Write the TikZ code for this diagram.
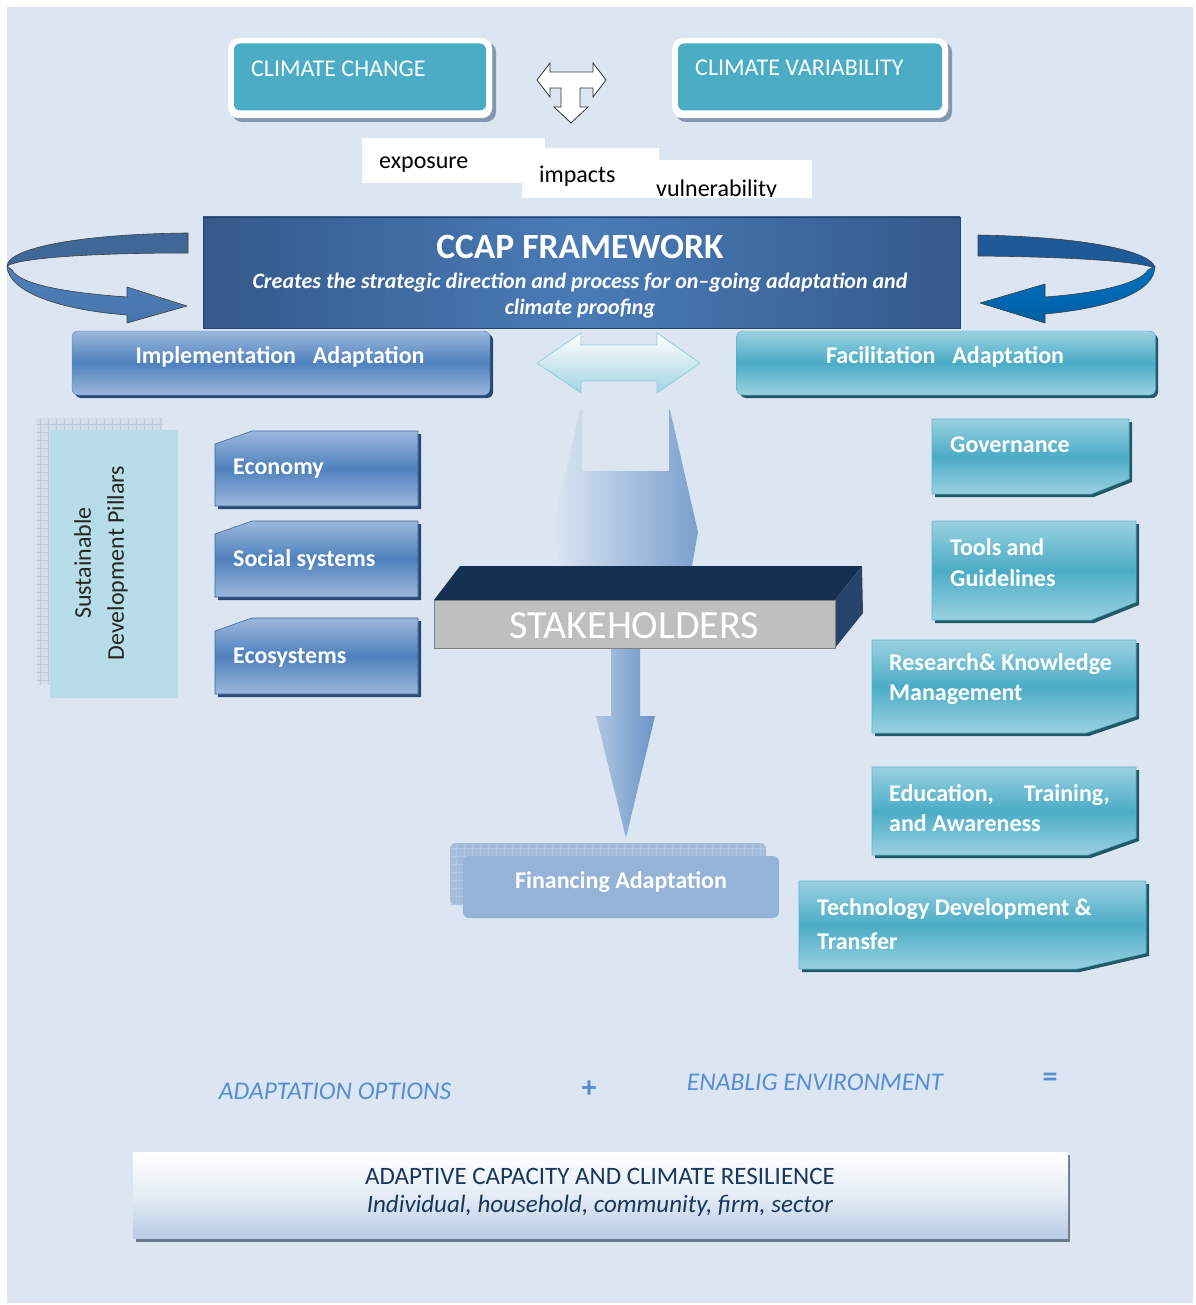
\documentclass[tikz,border=0pt]{standalone}
\usepackage{fontspec}
\setmainfont{Carlito}
\usepackage{tikz}
\usetikzlibrary{arrows,%
                shapes,positioning}
\definecolor{bgblue}{HTML}{DCE6F2}
\definecolor{teal1}{HTML}{4BACC6}
\definecolor{teal2}{HTML}{9AD1E0}
\definecolor{tealdark}{HTML}{215968}
\definecolor{blue1}{HTML}{4F81BD}
\definecolor{blue2}{HTML}{9CB8DD}
\definecolor{bluedark}{HTML}{2A4A75}
\definecolor{ccapdark}{HTML}{34598A}
\definecolor{ccaplight}{HTML}{4A7BB7}
\definecolor{ccapedge}{HTML}{24456E}
\definecolor{shadowgrey}{HTML}{8497B0}
\definecolor{navy}{HTML}{17375E}
\definecolor{optblue}{HTML}{558ED5}
\definecolor{finblue}{HTML}{95B3D7}
\definecolor{pillarcyan}{HTML}{B7DEE8}
\definecolor{gridfill}{HTML}{D3DDEC}
\definecolor{gridblue}{HTML}{BCCBE2}
\definecolor{loopblue}{HTML}{0070C0}
\definecolor{loopdark}{HTML}{1F5A98}
\newcommand{\mainsz}{\fontsize{24}{31}\selectfont}
% top-left corner cut: x1 y1 x2 y2 dx dy
\newcommand{\pillarshape}[6]{%
  \fill[bluedark] (#1+3,#2+#6+3) -- (#1+#5+3,#2+3) -- (#3+3,#2+3) -- (#3+3,#4+3) -- (#1+3,#4+3) -- cycle;
  \shade[pillarbox] (#1,#2+#6) -- (#1+#5,#2) -- (#3,#2) -- (#3,#4) -- (#1,#4) -- cycle;}
% bottom-right corner cut: x1 y1 x2 y2 dx dy
\newcommand{\supportshape}[6]{%
  \fill[tealdark] (#1+3,#2+3) -- (#3+3,#2+3) -- (#3+3,#4-#6+3) -- (#3-#5+3,#4+3) -- (#1+3,#4+3) -- cycle;
  \shade[supportbox] (#1,#2) -- (#3,#2) -- (#3,#4-#6) -- (#3-#5,#4) -- (#1,#4) -- cycle;}
\tikzstyle{climframe}=[rectangle,rounded corners=10pt,fill=white,draw=black!10,minimum width=264pt,minimum height=80pt,inner sep=0pt]
\tikzstyle{climshadow}=[rectangle,rounded corners=10pt,fill=shadowgrey,minimum width=264pt,minimum height=80pt,inner sep=0pt]
\tikzstyle{climbox}=[rectangle,rounded corners=6pt,fill=teal1,minimum width=252pt,minimum height=67pt,inner sep=0pt]
\tikzstyle{whitetext}=[text=white,font=\mainsz,inner sep=0pt]
\tikzstyle{whitebold}=[text=white,font=\mainsz\bfseries,inner sep=0pt,align=left]
\tikzstyle{labelbox}=[rectangle,fill=white,inner sep=0pt]
\tikzstyle{labeltext}=[text=black,font=\mainsz,inner sep=0pt]
\tikzstyle{ccapbox}=[rectangle,left color=ccapdark,right color=ccapdark,middle color=ccaplight,draw=ccapedge,minimum width=757pt,minimum height=111pt,inner sep=0pt]
\tikzstyle{adaptbox}=[rectangle,rounded corners=6pt,minimum width=418pt,minimum height=64pt,inner sep=0pt]
\tikzstyle{adaptshadow}=[adaptbox,fill=bluedark]
\tikzstyle{implbox}=[adaptbox,top color=blue2,bottom color=blue2,middle color=blue1,draw=blue1]
\tikzstyle{facilbox}=[adaptbox,top color=teal2,bottom color=teal2,middle color=teal1,draw=teal1]
\tikzstyle{pillarbox}=[top color=blue2,bottom color=blue2,middle color=blue1,draw=blue1!80!black,line width=0.6pt]
\tikzstyle{supportbox}=[top color=teal2,bottom color=teal2,middle color=teal1,draw=teal1!90!white,line width=0.6pt]
\tikzstyle{blockarrow}=[line width=0.8pt,line join=miter]
\tikzstyle{loopline}=[line width=0.6pt,draw=black!75]
\tikzstyle{optext}=[text=optblue,font=\fontsize{25.5}{31}\selectfont\itshape,inner sep=0pt]
\tikzstyle{gridline}=[line width=0.4pt]

\begin{document}
\begin{tikzpicture}[>=latex,line join=bevel,x=1pt,y=-1pt]
  \useasboundingbox (0,0) rectangle (1195,1305);
  \fill[white] (0,0) rectangle (1195,1305);
  \fill[bgblue] (7,7) rectangle (1193,1303);
  % climate boxes
  \node (ccshadow) at (364,82) [climshadow] {};
  \node (ccframe) at (360,78) [climframe] {};
  \node (ccbox) at (360,77) [climbox] {};
  \node (cctext) at (251,69) [anchor=west,whitetext] {CLIMATE CHANGE};
  \node (cvshadow) at (814,82) [climshadow,minimum width=276pt] {};
  \node (cvframe) at (810,78) [climframe,minimum width=276pt] {};
  \node (cvbox) at (810,77) [climbox,minimum width=264pt] {};
  \node (cvtext) at (695,68) [anchor=west,whitetext] {CLIMATE VARIABILITY};
  \draw [blockarrow,fill=white,draw=black!80] (537,80) -- (550,63) -- (550,72) -- (593,72) -- (593,63) -- (606,80) -- (593,97) -- (593,88) -- (580,88) -- (580,107) -- (588,107) -- (571,123) -- (554,107) -- (561,107) -- (561,88) -- (550,88) -- (550,97) -- cycle;
  % exposure impacts vulnerability
  \node (expbox) at (453.5,160.5) [labelbox,minimum width=183pt,minimum height=45pt] {};
  \node (exp) at (379,165) [anchor=west,labeltext] {exposure};
  \node (impbox) at (590.5,173) [labelbox,minimum width=137pt,minimum height=50pt] {};
  \node (imp) at (539,176) [anchor=west,labeltext] {impacts};
  \node (vulbox) at (726,179) [labelbox,minimum width=172pt,minimum height=38pt] {};
  \begin{scope}
    \clip (640,160) rectangle (812,197);
    \node (vul) at (656,197) [anchor=base west,labeltext] {vulnerability};
  \end{scope}
  % framework
  \node (ccap) at (581.5,272.5) [ccapbox] {};
  \node (ccaptitle) at (580,247) [text=white,font=\fontsize{35.5}{40}\selectfont\bfseries] {CCAP FRAMEWORK};
  \node (ccapsub) at (580,296) [text=white,font=\fontsize{22}{26}\selectfont\bfseries\itshape,align=center,inner sep=0pt] {Creates the strategic direction and process for on--going adaptation and\\climate proofing};
  \fill [loopline,fill=blue1!80!black] (188,233) .. controls (80,234) and (8,248) .. (7,266) .. controls (20,258) and (90,253) .. (188,253) -- cycle;
  \shade [loopline,top color=blue1,bottom color=blue1!90!black] (7,266) .. controls (8,292) and (60,310) .. (127,315) -- (127,323) -- (187,306) -- (127,287) -- (127,297) .. controls (70,293) and (20,285) .. (12,270) -- cycle;
  \fill [loopline,fill=loopdark] (978,235) .. controls (1090,237) and (1153,252) .. (1155,268) .. controls (1140,262) and (1080,257) .. (978,256) -- cycle;
  \shade [loopline,top color=loopblue,bottom color=loopblue!85!black] (1155,266) .. controls (1155,292) and (1110,308) .. (1045,314) -- (1045,323) -- (980,303) -- (1045,284) -- (1045,297) .. controls (1100,293) and (1140,283) .. (1148,270) -- cycle;
  % implementation and facilitation
  \node (implshadow) at (284,366) [adaptshadow] {};
  \node (impl) at (281,363) [implbox] {};
  \node (impltext) at (280,357) [whitebold] {Implementation\hspace{0.7em}Adaptation};
  \node (facilshadow) at (949,366) [adaptshadow,fill=tealdark] {};
  \node (facil) at (946,363) [facilbox,minimum width=419pt] {};
  \node (faciltext) at (945,357) [whitebold] {Facilitation\hspace{0.7em}Adaptation};
  \shade [blockarrow,top color=white,bottom color=pillarcyan!80!teal1,draw=teal1!60!white] (537,363) -- (581,333) -- (581,345) -- (657,345) -- (657,333) -- (700,363) -- (657,393) -- (657,381) -- (581,381) -- (581,393) -- cycle;
  % pillars
  \fill [gridfill] (37,418) rectangle (163,685);
  \draw [gridline,step=8pt,draw=gridblue] (37,685) grid (163,418);
  \node (pillars) at (114,564) [rectangle,fill=pillarcyan,minimum width=128pt,minimum height=268pt,inner sep=0pt] {};
  \node (pillartext) at (101,563) [rotate=90,align=center,text=black!85,font=\fontsize{24}{33}\selectfont,inner sep=0pt] {Sustainable\\Development Pillars};
  \pillarshape{215}{431}{418}{506}{37}{13}
  \node (economy) at (233,469) [anchor=west,whitebold] {Economy};
  \pillarshape{215}{521}{418}{597}{37}{13}
  \node (social) at (233,560) [anchor=west,whitebold] {Social systems};
  \pillarshape{215}{618}{418}{694}{37}{13}
  \node (ecosys) at (233,658) [anchor=west,whitebold] {Ecosystems};
  % stakeholders
  \shade [left color=blue1!20!white,right color=blue1!75!white] (580,410) -- (582,410) -- (582,471) -- (669,471) -- (669,410) -- (670,410) -- (698,532) -- (692,566) -- (560,566) -- (552,532) -- cycle;
  \shade [left color=blue1!45!white,right color=blue1!85!white] (611,640) -- (640,640) -- (640,716) -- (655,716) -- (626,838) -- (596,716) -- (611,716) -- cycle;
  \fill [fill=navy!85!black] (434,600) -- (460,566) -- (862,566) -- (835,600) -- cycle;
  \fill [fill=bluedark!90!black] (835,600) -- (862,566) -- (863,613) -- (835,648) -- cycle;
  \node (stake) at (634.5,624) [rectangle,fill=black!25,draw=black!50,minimum width=401pt,minimum height=48pt,inner sep=0pt] {};
  \node (staketext) at (634,626) [text=white,font=\fontsize{40}{44}\selectfont] {STAKEHOLDERS};
  % financing
  \fill [gridblue!80!blue1,rounded corners=6pt] (450,843) rectangle (766,905);
  \draw [gridline,step=8pt,draw=blue1!45!white] (451,904) grid (765,844);
  \node (finance) at (621,887) [rectangle,rounded corners=6pt,fill=finblue,minimum width=316pt,minimum height=62pt,inner sep=0pt] {};
  \node (financetext) at (621,882) [whitebold] {Financing Adaptation};
  % enabling environment
  \supportshape{932}{419}{1129}{494}{38}{15}
  \node (govern) at (950,445) [anchor=west,whitebold] {Governance};
  \supportshape{932}{521}{1136}{620}{45}{18}
  \node (tools) at (950,563) [anchor=west,whitebold] {Tools and\\Guidelines};
  \supportshape{872}{640}{1136}{733}{50}{17}
  \node (research) at (889,679) [anchor=west,whitebold,font=\fontsize{24}{30}\selectfont\bfseries] {Research\& Knowledge\\Management};
  \supportshape{872}{767}{1136}{855}{48}{17}
  \node (educ) at (889,808) [anchor=west,whitebold,font=\fontsize{24}{30}\selectfont\bfseries] {Education,\hspace{30pt}Training,\\and Awareness};
  \supportshape{799}{881}{1146}{969}{69}{16}
  \begin{scope}
    \clip (799,881) rectangle (1146,948);
    \node (techno) at (817,924) [anchor=west,whitebold,font=\fontsize{24}{34}\selectfont\bfseries] {Technology Development \&\\Transfer};
  \end{scope}
  % equation
  \node (options) at (335,1091) [optext] {ADAPTATION OPTIONS};
  \node (plus) at (589,1089) [optext,font=\fontsize{30}{31}\selectfont\bfseries] {+};
  \node (enabling) at (815,1082) [optext] {ENABLIG ENVIRONMENT};
  \node (equals) at (1050,1080) [optext,font=\fontsize{30}{31}\selectfont\bfseries] {=};
  \fill [shadowgrey!80!black] (136,1237) rectangle (1070,1242);
  \fill [shadowgrey!80!black] (1067,1155) rectangle (1070,1242);
  \node (resil) at (600.5,1195) [rectangle,top color=white,bottom color=blue1!40!white,middle color=white!85!blue1,minimum width=935pt,minimum height=86pt,inner sep=0pt] {};
  \node (resiltext) at (600,1192) [text=navy,font=\fontsize{25}{28}\selectfont,align=center,inner sep=0pt] {ADAPTIVE CAPACITY AND CLIMATE RESILIENCE\\\textit{Individual, household, community, firm, sector}};
    %
\end{tikzpicture}
\end{document}
